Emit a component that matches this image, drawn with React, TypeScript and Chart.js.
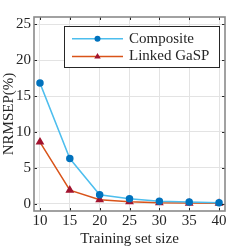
import React, { useEffect, useRef } from "react";
import { Chart, registerables } from "chart.js";

Chart.register(...registerables);

const trainingSizes = [10, 15, 20, 25, 30, 35, 40];
const compositeValues = [16.8, 6.3, 1.26, 0.7, 0.37, 0.25, 0.15];
const linkedValues = [8.6, 1.9, 0.56, 0.3, 0.15, 0.1, 0.08];
const seriesLabels = ["Composite", "Linked GaSP"];
const yTicks = [0, 5, 10, 15, 20, 25];

const FONT = "'Liberation Serif', 'DejaVu Serif', serif";

const framePlugin = {
  id: "framePlugin",
  afterDatasetsDraw(chart: any) {
    const { ctx, chartArea: a, scales } = chart;
    const xs = scales.x;
    const ys = scales.y;
    ctx.save();
    ctx.strokeStyle = "#262626";
    ctx.lineWidth = 1;
    const tl = 3;
    for (const v of trainingSizes) {
      const px = Math.round(xs.getPixelForValue(v)) + 0.5;
      ctx.beginPath();
      ctx.moveTo(px, a.bottom);
      ctx.lineTo(px, a.bottom - tl);
      ctx.moveTo(px, a.top);
      ctx.lineTo(px, a.top + tl);
      ctx.stroke();
    }
    for (const v of yTicks) {
      const py = Math.round(ys.getPixelForValue(v)) + 0.5;
      ctx.beginPath();
      ctx.moveTo(a.left, py);
      ctx.lineTo(a.left + tl, py);
      ctx.moveTo(a.right, py);
      ctx.lineTo(a.right - tl, py);
      ctx.stroke();
    }
    ctx.strokeStyle = "#8a8a8a";
    ctx.lineWidth = 1.6;
    ctx.strokeRect(a.left, a.top, a.right - a.left, a.bottom - a.top);

    const lx = 64.5, ly = 26.5, lw = 155, lh = 41;
    ctx.fillStyle = "#ffffff";
    ctx.fillRect(lx, ly, lw, lh);
    ctx.strokeStyle = "#262626";
    ctx.lineWidth = 1;
    ctx.strokeRect(lx, ly, lw, lh);
    const ds = chart.data.datasets;
    const rows = [38.7, 56.5];
    ds.forEach((d: any, i: number) => {
      const y = rows[i];
      ctx.strokeStyle = d.borderColor;
      ctx.lineWidth = 1.5;
      ctx.beginPath();
      ctx.moveTo(72, y);
      ctx.lineTo(123, y);
      ctx.stroke();
      ctx.fillStyle = d.pointBackgroundColor;
      if (d.pointStyle === "triangle") {
        const r = 3.6;
        ctx.beginPath();
        ctx.moveTo(97.5, y - r);
        ctx.lineTo(97.5 + r * 0.9, y + r * 0.55);
        ctx.lineTo(97.5 - r * 0.9, y + r * 0.55);
        ctx.closePath();
        ctx.fill();
      } else {
        ctx.beginPath();
        ctx.arc(97.5, y, 3, 0, Math.PI * 2);
        ctx.fill();
      }
      ctx.fillStyle = "#262626";
      ctx.font = `15px ${FONT}`;
      ctx.textBaseline = "middle";
      ctx.textAlign = "left";
      ctx.fillText(d.label, 129, y);
    });
    ctx.restore();
  },
};

export default function App() {
  const ref = useRef<HTMLCanvasElement>(null);
  useEffect(() => {
    if (!ref.current) return;
    const chart = new Chart(ref.current, {
      type: "line",
      data: {
        datasets: [
          {
            label: seriesLabels[0],
            data: trainingSizes.map((x, i) => ({ x, y: compositeValues[i] })),
            borderColor: "#4DBEEE",
            backgroundColor: "#0072BD",
            pointBackgroundColor: "#0072BD",
            pointBorderColor: "#0072BD",
            pointStyle: "circle",
            pointRadius: 3,
            borderWidth: 1.5,
          },
          {
            label: seriesLabels[1],
            data: trainingSizes.map((x, i) => ({ x, y: linkedValues[i] })),
            borderColor: "#D95319",
            backgroundColor: "#A2142F",
            pointBackgroundColor: "#A2142F",
            pointBorderColor: "#A2142F",
            pointStyle: "triangle",
            pointRadius: 3.6,
            borderWidth: 1.5,
          },
        ],
      },
      options: {
        animation: false,
        responsive: false,
        layout: { padding: { top: 17, right: 24, left: 0, bottom: 0 } },
        plugins: { legend: { display: false }, tooltip: { enabled: false } },
        scales: {
          x: {
            type: "linear",
            min: 9,
            max: 41,
            afterBuildTicks: (s: any) => {
              s.ticks = trainingSizes.map((v) => ({ value: v }));
            },
            afterFit: (s: any) => {
              s.height = 38;
            },
            grid: { color: "#e3e3e3", drawTicks: false, lineWidth: 1 },
            border: { display: false },
            ticks: {
              padding: 1,
              color: "#262626",
              font: { family: FONT, size: 15 },
              maxRotation: 0,
              autoSkip: false,
            },
            title: {
              display: true,
              text: "Training set size",
              color: "#262626",
              font: { family: FONT, size: 15 },
              padding: { top: 0, bottom: 1 },
            },
          },
          y: {
            min: -1,
            max: 26,
            afterBuildTicks: (s: any) => {
              s.ticks = yTicks.map((v) => ({ value: v }));
            },
            afterFit: (s: any) => {
              s.width = 34;
            },
            grid: { color: "#e3e3e3", drawTicks: false, lineWidth: 1 },
            border: { display: false },
            ticks: {
              padding: 3,
              color: "#262626",
              font: { family: FONT, size: 15 },
              autoSkip: false,
            },
            title: {
              display: true,
              text: "NRMSEP(%)",
              color: "#262626",
              font: { family: FONT, size: 15 },
              padding: { top: 0, bottom: 0 },
            },
          },
        },
      },
      plugins: [framePlugin],
    });
    return () => chart.destroy();
  }, []);
  return (
    <div style={{ position: "fixed", left: 0, top: 0, width: 249, height: 249, background: "#fff" }}>
      <canvas ref={ref} width={249} height={249} />
    </div>
  );
}
